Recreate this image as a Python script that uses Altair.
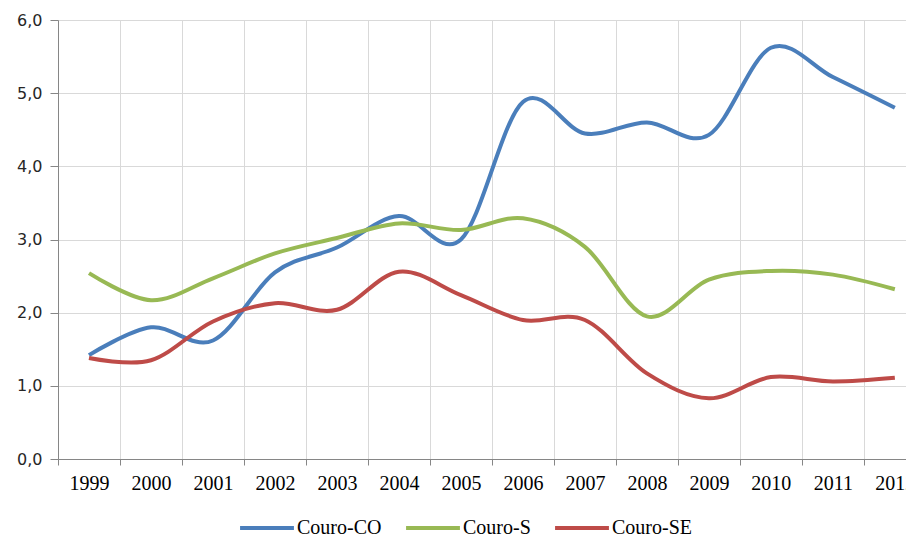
import altair as alt
import pandas as pd

years = list(range(1999, 2013))
series_names = ["Couro-CO", "Couro-S", "Couro-SE"]
couro_co = [1.42, 1.80, 1.62, 2.55, 2.89, 3.32, 3.00, 4.88, 4.45, 4.60, 4.43, 5.62, 5.22, 4.80]
couro_s = [2.54, 2.17, 2.47, 2.81, 3.02, 3.22, 3.13, 3.29, 2.90, 1.95, 2.45, 2.57, 2.52, 2.32]
couro_se = [1.38, 1.35, 1.88, 2.13, 2.04, 2.56, 2.24, 1.90, 1.90, 1.17, 0.83, 1.12, 1.06, 1.11]
colors = ["#4A7EBB", "#98B954", "#BE4B48"]
y_ticks = [0, 1, 2, 3, 4, 5, 6]
x_grid = [y - 0.5 for y in years]

rows = []
for name, vals in zip(series_names, [couro_co, couro_s, couro_se]):
    for yr, v in zip(years, vals):
        rows.append({"ano": yr, "valor": v, "serie": name})
df = pd.DataFrame(rows)

chart = alt.Chart(df).mark_line(strokeWidth=4, interpolate="cardinal", clip=True).encode(
    x=alt.X("ano:Q",
            scale=alt.Scale(domain=[1998.5, 2012.18], nice=False, zero=False),
            axis=alt.Axis(values=x_grid, title=None, grid=True, gridColor="#d9d9d9",
                          domainColor="#868686", tickColor="#868686", tickSize=6,
                          labelExpr="toString(datum.value + 0.5)", labelOffset=31,
                          labelFlush=False, labelOverlap=False, labelPadding=8,
                          labelFont="Liberation Serif", labelFontSize=20, labelColor="#000000")),
    y=alt.Y("valor:Q",
            scale=alt.Scale(domain=[0, 6], nice=False),
            axis=alt.Axis(values=y_ticks, title=None, grid=True, gridColor="#d9d9d9",
                          domainColor="#868686", tickColor="#868686", tickSize=8,
                          labelExpr="replace(format(datum.value, '.1f'), '.', ',')",
                          labelPadding=8, labelFont="DejaVu Sans", labelFontSize=16,
                          labelColor="#262626")),
    color=alt.Color("serie:N",
                    scale=alt.Scale(domain=series_names, range=colors),
                    legend=alt.Legend(title=None, orient="none", direction="horizontal",
                                      legendX=180, legendY=479,
                                      symbolType="stroke", symbolSize=2900, symbolStrokeWidth=4,
                                      labelFont="Liberation Serif", labelFontSize=20,
                                      labelColor="#000000", labelOffset=1, columnPadding=16)),
).properties(
    width=848, height=439,
    autosize=alt.AutoSizeParams(type="none"),
    padding={"left": 50, "top": 12, "right": 0, "bottom": 76},
).configure_view(stroke="transparent")

chart.save("out.html", embed_options={"renderer": "svg", "actions": False})
